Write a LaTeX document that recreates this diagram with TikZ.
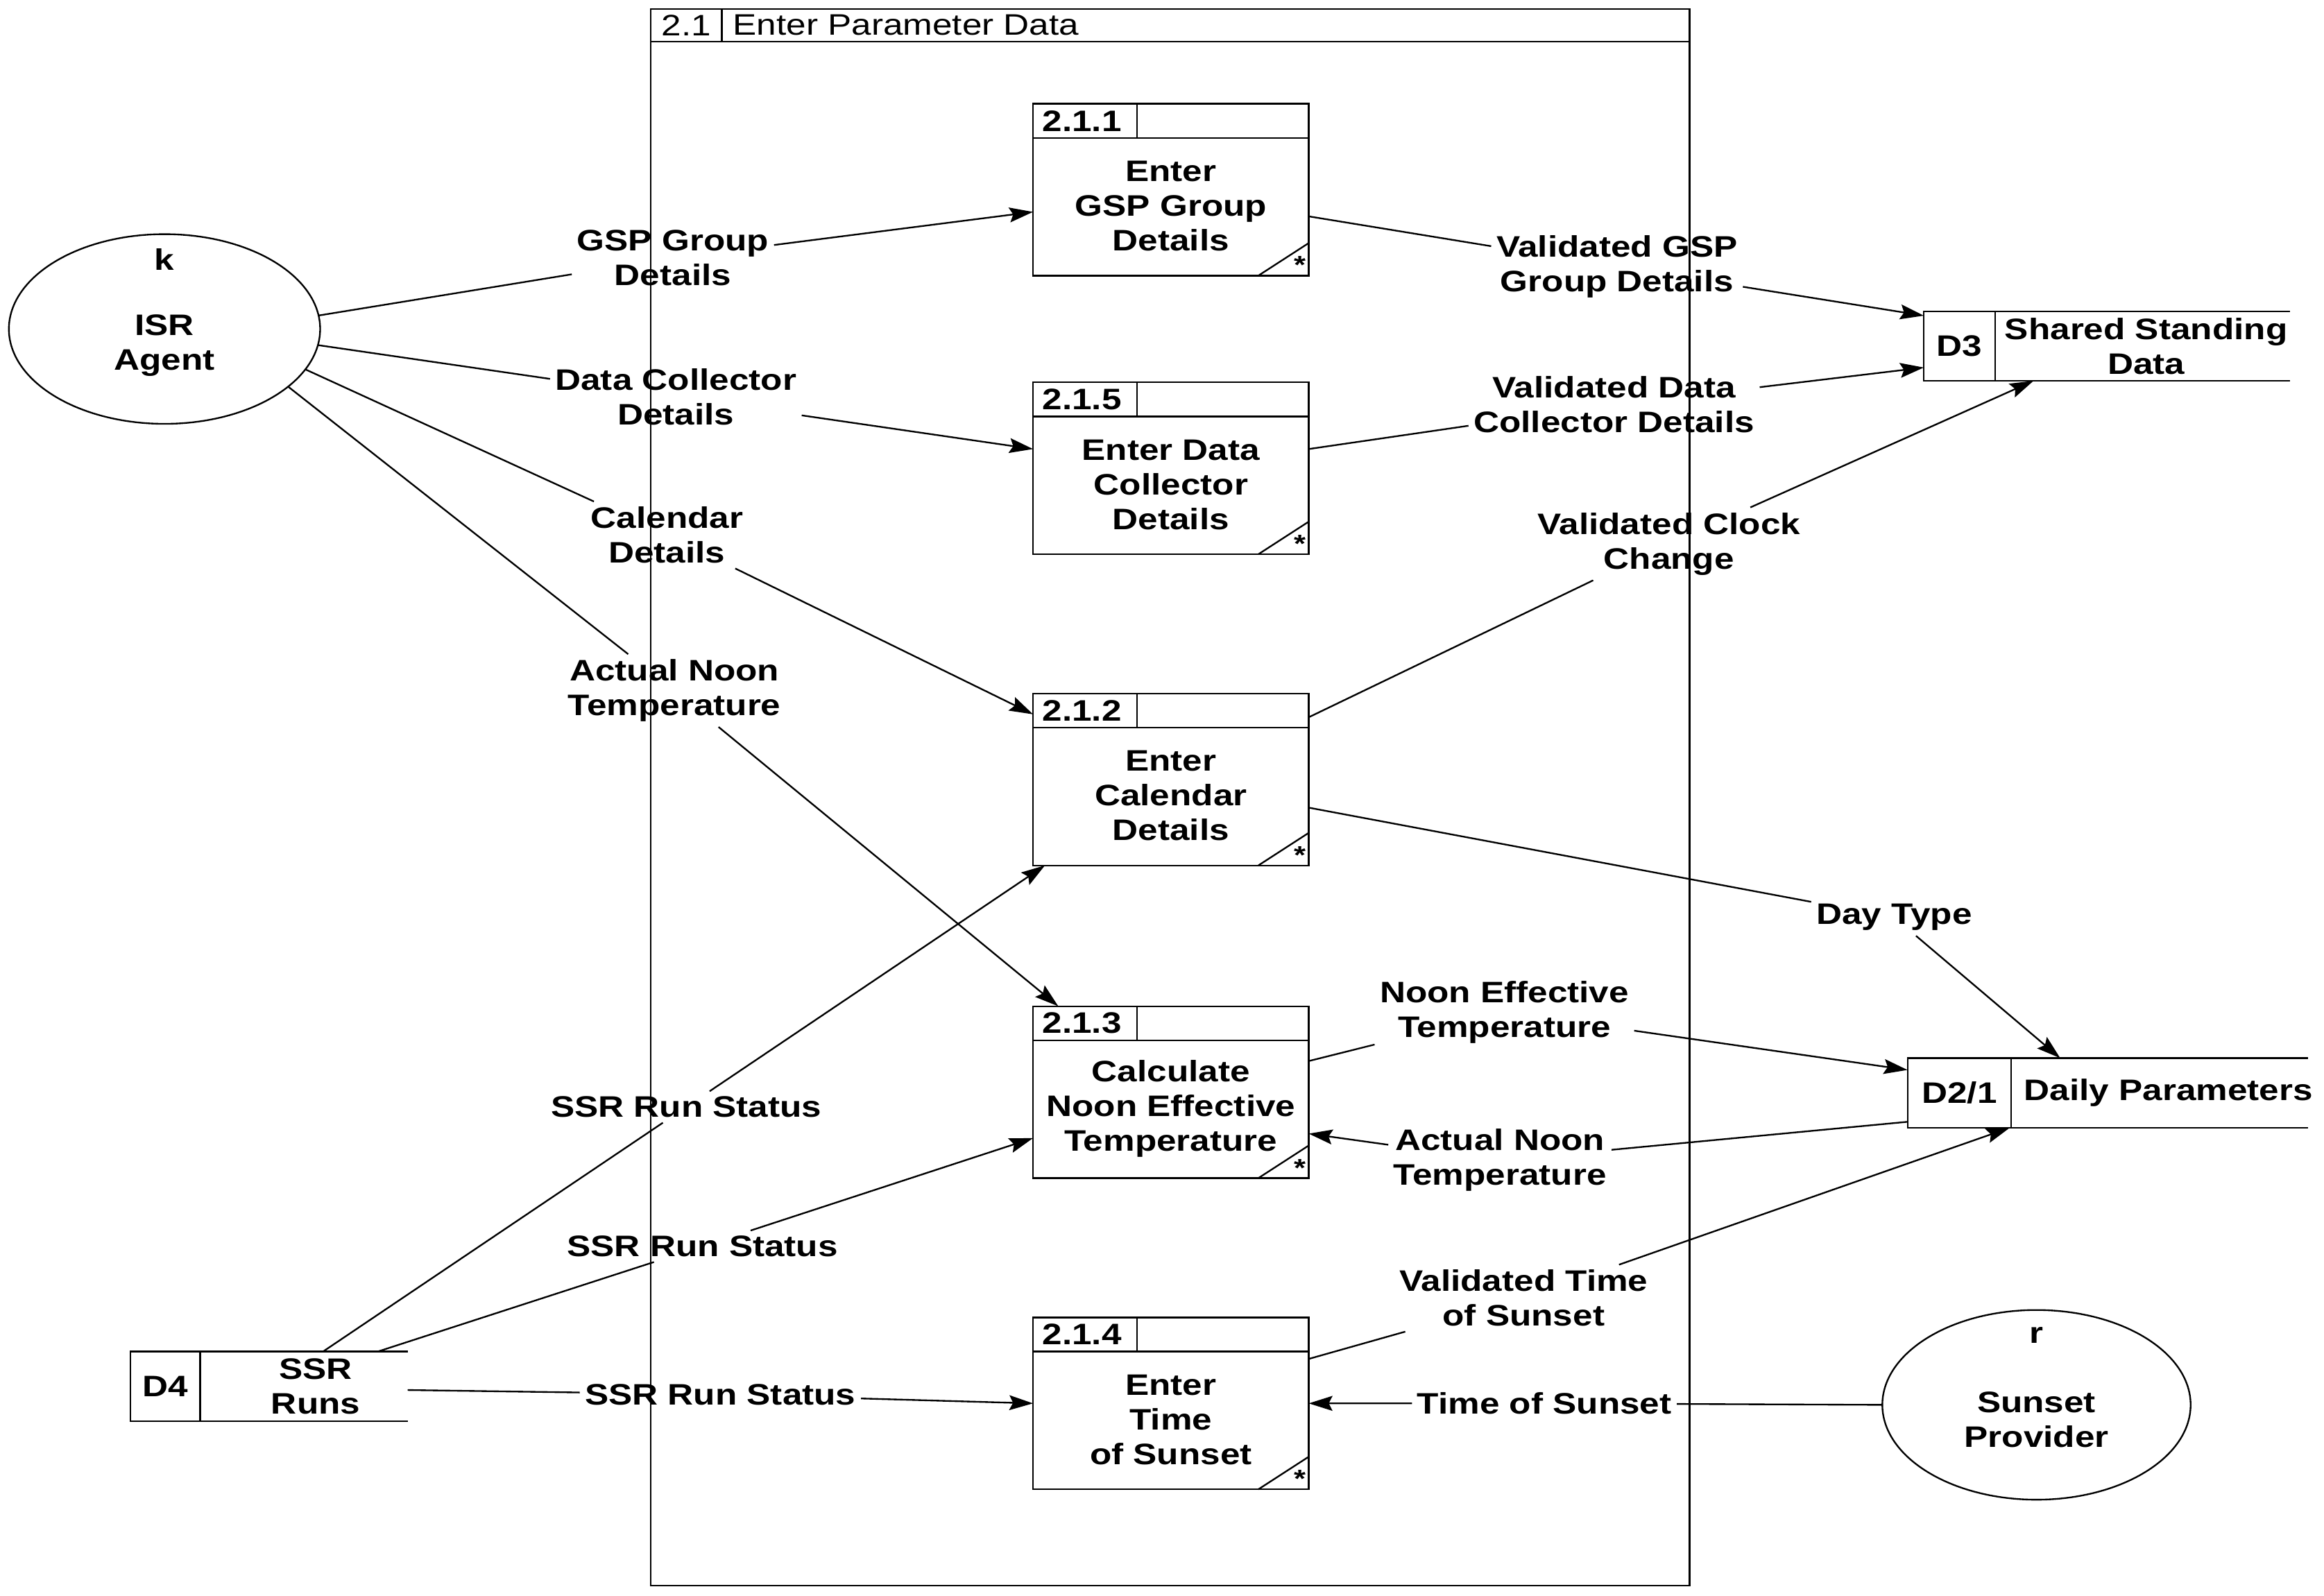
\documentclass[tikz,border=0pt]{standalone}
\usepackage{fontspec}
\setmainfont{Liberation Sans}[FakeStretch=1.2]
\usetikzlibrary{shapes.geometric,arrows.meta,calc}
\begin{document}
\begin{tikzpicture}[x=1pt,y=-1pt,line width=1.1pt,
  txt/.style={font=\fontsize{20}{23.4}\selectfont\bfseries, align=center, inner sep=3pt},
  every node/.style={txt},
  proc/.style={draw, rectangle, minimum width=186pt, minimum height=116pt, inner sep=0pt, outer sep=0pt, anchor=north west},
  store/.style={rectangle, minimum height=47pt, inner sep=0pt, outer sep=0pt, anchor=north west},
  ent/.style={draw, ellipse, minimum width=210pt, minimum height=128pt, inner sep=0pt, outer sep=0pt},
  startxt/.style={font=\fontsize{17}{17}\selectfont\bfseries, inner sep=0pt},
  flow/.style={-{Stealth[length=16pt,width=10pt,inset=2.5pt]}}]
\useasboundingbox (0,0) rectangle (1568,1077);

\newcommand{\procbox}[5]{%
  \node[proc] (#1) at (#2,#3) {};
  \draw ($(#1.north west)+(0,23)$) -- ($(#1.north east)+(0,23)$);
  \draw ($(#1.north west)+(70,0)$) -- ($(#1.north west)+(70,23)$);
  \node (#1id) at ($(#1.north west)+(33,11.5)$) {#4};
  \node (#1tx) at ($(#1.north west)+(93,69)$) {#5};
  \draw ($(#1.south east)+(-34,0)$) -- ($(#1.south east)+(0,-22)$);
  \node[startxt] (#1st) at ($(#1.south east)+(-6,-7)$) {*};
}
\newcommand{\dstore}[8]{%
  \node[store, minimum width=#4pt] (#1) at (#2,#3) {};
  \draw (#1.north east) -- (#1.north west) -- (#1.south west) -- (#1.south east);
  \draw ($(#1.north west)+(#5,0)$) -- ($(#1.south west)+(#5,0)$);
  \node (#1id) at ($(#1.west)+(#5/2,0)$) {#6};
  \node (#1tx) at ($(#1.west)+(#8,0)$) {#7};
}

% outer frame
\node[draw, rectangle, minimum width=701pt, minimum height=1064pt, inner sep=0pt, outer sep=0pt, anchor=north west] (frame) at (439,6) {};
\draw ($(frame.north west)+(0,22)$) -- ($(frame.north east)+(0,22)$);
\draw ($(frame.north west)+(48,0)$) -- ($(frame.north west)+(48,22)$);
\node[font=\fontsize{20}{23.4}\selectfont] (frameid) at ($(frame.north west)+(24,11)$) {2.1};
\node[font=\fontsize{20}{23.4}\selectfont, anchor=west] (frametitle) at ($(frame.north west)+(52,11)$) {Enter Parameter Data};

% processes
\procbox{p1}{697}{70}{2.1.1}{Enter\\GSP Group\\Details}
\procbox{p5}{697}{258}{2.1.5}{Enter Data\\Collector\\Details}
\procbox{p2}{697}{468}{2.1.2}{Enter\\Calendar\\Details}
\procbox{p3}{697}{679}{2.1.3}{Calculate\\Noon Effective\\Temperature}
\procbox{p4}{697}{889}{2.1.4}{Enter\\Time\\of Sunset}

% data stores
\dstore{d3}{1298}{210}{247}{48}{D3}{Shared Standing\\Data}{150}
\dstore{d21}{1287}{714}{270}{70}{D2/1}{Daily Parameters}{176}
\dstore{d4}{88}{912}{187}{47}{D4}{SSR\\Runs}{125}

% external entities
\node[ent] (isr) at (111,222) {};
\node (isrk) at (111,175) {k};
\node (isrtx) at (111,233) {ISR\\Agent};
\node[ent, minimum width=208pt] (sun) at (1374,948) {};
\node (sunr) at (1374,901) {r};
\node (suntx) at (1374,958) {Sunset\\Provider};

% labels
\node (l1) at (454,174) {GSP Group\\Details};
\node (l2) at (456,268) {Data Collector\\Details};
\node (l3) at (450,361) {Calendar\\Details};
\node (l4) at (455,466) {Actual Noon\\Temperature};
\node (l5) at (1091,180) {Validated GSP\\Group Details};
\node (l6) at (1089,273) {Validated Data\\Collector Details};
\node (l7) at (1126,367) {Validated Clock\\Change};
\node (l8) at (1278,619) {Day Type};
\node (l9) at (1015,683) {Noon Effective\\Temperature};
\node (l10) at (1012,783) {Actual Noon\\Temperature};
\node (l11) at (1028,876) {Validated Time\\of Sunset};
\node (l12) at (1042,947) {Time of Sunset};
\node (l13) at (486,941) {SSR Run Status};
\node (l14) at (474,841) {SSR Run Status};
\node (l15) at (463,747) {SSR Run Status};

% flows
\draw[flow] (isr.5) -- (l1) -- ($(p1.north west)+(0,73)$);
\draw[flow] (isr.-6) -- (l2) -- ($(p5.north west)+(0,45)$);
\draw[flow] (isr.-16) -- (l3) -- ($(p2.north west)+(0,14)$);
\draw[flow] (isr.-25) -- (l4) -- ($(p3.north west)+(17,0)$);
\draw[flow] ($(p1.north east)+(0,76)$) -- (l5) -- ($(d3.north west)+(0,3)$);
\draw[flow] ($(p5.north east)+(0,45)$) -- (l6) -- ($(d3.north west)+(0,38)$);
\draw[flow] ($(p2.north east)+(0,16)$) -- (l7) -- ($(d3.south west)+(74,0)$);
\draw[flow] ($(p2.north east)+(0,77)$) -- (l8) -- ($(d21.north west)+(103,0)$);
\draw[flow] ($(p3.north east)+(0,37)$) -- (l9) -- ($(d21.north west)+(0,8)$);
\draw[flow] ($(d21.south west)+(0,-4)$) -- (l10) -- ($(p3.north east)+(0,86)$);
\draw[flow] ($(p4.north east)+(0,28)$) -- (l11) -- ($(d21.south west)+(69,0)$);
\draw[flow] (sun.west) -- (l12) -- ($(p4.north east)+(0,58)$);
\draw[flow] ($(d4.north east)+(0,26)$) -- (l13) -- ($(p4.north west)+(0,58)$);
\draw[flow] ($(d4.north west)+(167,0)$) -- (l14) -- ($(p3.north west)+(0,89)$);
\draw[flow] ($(d4.north west)+(130,0)$) -- (l15) -- ($(p2.south west)+(8,0)$);
\end{tikzpicture}
\end{document}
